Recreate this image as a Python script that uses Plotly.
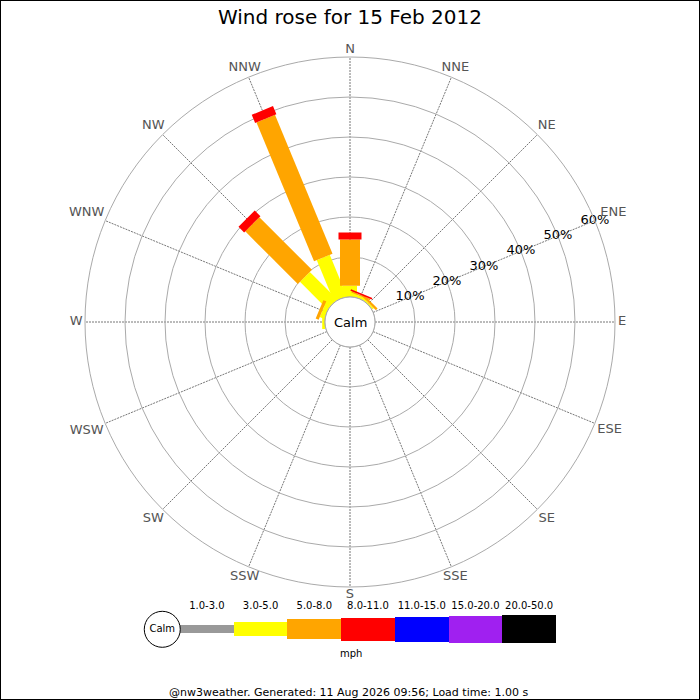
import plotly.graph_objects as go

# wind rose for 15 Feb 2012, % of time per direction and speed bin
DIRS = ["N", "NNE", "NE", "ENE", "E", "ESE", "SE", "SSE",
        "S", "SSW", "SW", "WSW", "W", "WNW", "NW", "NNW"]
BINS = ["1.0-3.0", "3.0-5.0", "5.0-8.0", "8.0-11.0",
        "11.0-15.0", "15.0-20.0", "20.0-50.0"]
COLORS = ["#999999", "#ffff00", "#ffa500", "#ff0000",
          "#0000ff", "#a020f0", "#000000"]

s_1_3 = [0] * 16
s_3_5 = [2.8, 0.7, 0.4, 0, 0, 0, 0, 0, 0, 0, 0, 0, 0.7, 1.2, 9.7, 11.2]
s_5_8 = [11.6, 0.3, 0.6, 0, 0, 0, 0, 0, 0, 0, 0, 0, 0, 0.8, 18.6, 37.6]
s_8_11 = [1.7, 0.4, 0, 0, 0, 0, 0, 0, 0, 0, 0, 0, 0, 0, 2.0, 2.2]
s_11_15 = [0] * 16
s_15_20 = [0] * 16
s_20_50 = [0] * 16
SERIES = [s_1_3, s_3_5, s_5_8, s_8_11, s_11_15, s_15_20, s_20_50]

RINGS = [10, 20, 30, 40, 50, 60]

# bar thickness (px) per speed bin, also used for the key
WIDTHS = [8, 14, 20, 23, 25, 27, 28]
# where the compass labels sit (radial units, just past the 60% ring)
LABEL_R = [61.8, 62.6, 63.3, 65.0, 61.8, 64.0, 63.3, 62.6,
           62.0, 62.6, 63.3, 65.0, 62.2, 65.0, 63.3, 62.6]

FONT = "DejaVu Sans"
angles = [i * 22.5 for i in range(16)]

fig = go.Figure()

# stacked bars drawn as thick radial strokes
base = [0] * 16
for k, vals in enumerate(SERIES):
    r, th = [], []
    for i, v in enumerate(vals):
        if v > 0:
            r += [base[i], base[i] + v, None]
            th += [angles[i], angles[i], None]
            base[i] += v
    if r:
        fig.add_trace(go.Scatterpolar(
            r=r, theta=th, mode="lines", connectgaps=False,
            line=dict(color=COLORS[k], width=WIDTHS[k]),
            showlegend=False, hoverinfo="skip"))

# calm circle outline
fig.add_trace(go.Scatterpolar(
    r=[0] * 73, theta=[i * 5 for i in range(73)], mode="lines",
    line=dict(color="#aaaaaa", width=1), showlegend=False, hoverinfo="skip"))

# ring labels along ENE
fig.add_trace(go.Scatterpolar(
    r=RINGS, theta=[67.5] * len(RINGS), mode="text",
    text=[f"{v}%" for v in RINGS],
    textfont=dict(family=FONT, size=13, color="black"),
    showlegend=False, hoverinfo="skip"))

# compass labels on an invisible, wider polar with the same radial scale
fig.add_trace(go.Scatterpolar(
    r=LABEL_R, theta=angles, mode="text", text=DIRS, subplot="polar2",
    textfont=dict(family=FONT, size=13, color="#555555"),
    showlegend=False, hoverinfo="skip"))

# key at the bottom
fig.add_trace(go.Bar(
    x=list(range(7)), y=WIDTHS, base=[-w / 2 for w in WIDTHS], width=1,
    marker=dict(color=COLORS, line=dict(width=0)),
    xaxis="x", yaxis="y", showlegend=False, hoverinfo="skip"))
fig.add_trace(go.Scatter(
    x=list(range(7)), y=[22.6] * 7, mode="text", text=BINS,
    textfont=dict(family=FONT, size=10, color="black"),
    cliponaxis=False, xaxis="x", yaxis="y", showlegend=False, hoverinfo="skip"))
fig.add_trace(go.Scatter(
    x=[-0.83], y=[0], mode="markers+text", text=["Calm"],
    textposition="middle center",
    textfont=dict(family=FONT, size=10, color="black"),
    marker=dict(size=36, color="white", line=dict(color="black", width=1)),
    cliponaxis=False, xaxis="x", yaxis="y", showlegend=False, hoverinfo="skip"))

fig.update_layout(
    width=700, height=700,
    margin=dict(l=0, r=0, t=0, b=0),
    paper_bgcolor="white",
    font=dict(family=FONT, color="black"),
    title=dict(text="Wind rose for 15 Feb 2012", x=0.5, xanchor="center",
               y=0.976, yanchor="middle",
               font=dict(family=FONT, size=20, color="black")),
    polar=dict(
        domain=dict(x=[85 / 700, 615 / 700], y=[1 - 587 / 700, 1 - 57 / 700]),
        bgcolor="white",
        hole=25 / 265,
        radialaxis=dict(range=[0, 60], tickvals=RINGS, showticklabels=False,
                        ticks="", showline=False, gridcolor="#aaaaaa",
                        gridwidth=1),
        angularaxis=dict(direction="clockwise", rotation=90,
                         tickvals=angles, showticklabels=False, ticks="",
                         showline=True, linecolor="#aaaaaa", linewidth=1,
                         gridcolor="#777777", griddash="2px,1px", gridwidth=1),
    ),
    polar2=dict(
        domain=dict(x=[61 / 700, 639 / 700], y=[1 - 611 / 700, 1 - 33 / 700]),
        bgcolor="rgba(0,0,0,0)",
        radialaxis=dict(range=[-6.25, 66], visible=False),
        angularaxis=dict(direction="clockwise", rotation=90, visible=False),
    ),
    xaxis=dict(domain=[140 / 700, 556 / 700], range=[-1.2447, 6.5],
               visible=False, fixedrange=True),
    yaxis=dict(domain=[1 - 664.3 / 700, 1 - 594.3 / 700], range=[-35, 35],
               visible=False, fixedrange=True),
    plot_bgcolor="white",
    bargap=0,
    annotations=[
        dict(text="Calm", x=0.5, y=1 - 322 / 700, xref="paper", yref="paper",
             yanchor="middle", showarrow=False,
             font=dict(family=FONT, size=13, color="black")),
        dict(text="mph", x=350.7 / 700, y=1 - 653.3 / 700, xref="paper",
             yref="paper", yanchor="middle", showarrow=False,
             font=dict(family=FONT, size=10, color="black")),
        dict(text="@nw3weather. Generated: 11 Aug 2026 09:56; Load time: 1.00 s",
             x=348 / 700, y=1 - 692 / 700, xref="paper", yref="paper",
             yanchor="middle", showarrow=False,
             font=dict(family=FONT, size=11, color="black")),
    ],
    shapes=[dict(type="rect", xref="paper", yref="paper", x0=0, y0=0,
                 x1=1, y1=1, line=dict(color="black", width=2))],
)

fig.write_html("out.html", config={"displayModeBar": False},
               post_script="document.body.style.margin='0';")
